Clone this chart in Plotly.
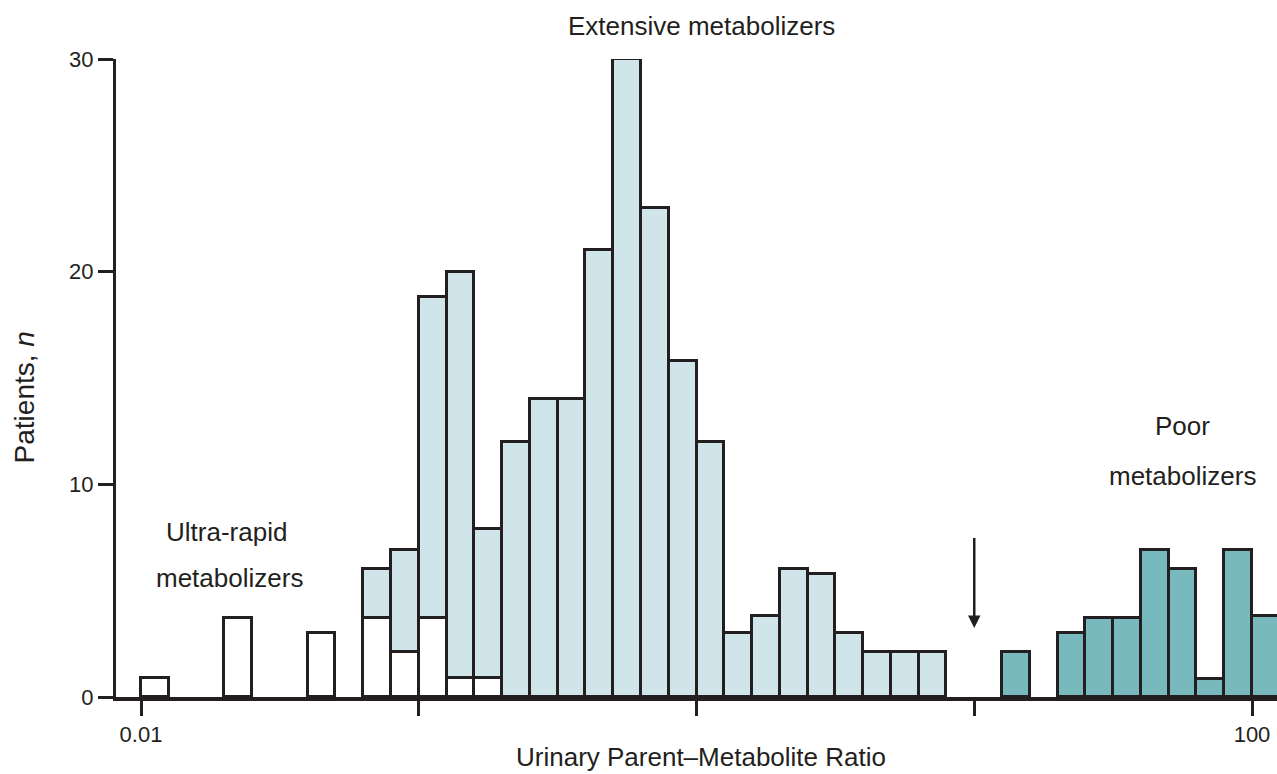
import plotly.graph_objects as go

# Histogram of urinary parent/metabolite ratio; bins are 0.1 wide in log10(ratio),
# each bin identified by its lower edge.
ultra_bins = [-2.0, -1.7, -1.4, -1.2, -1.1, -1.0, -0.9, -0.8]
ultra_n = [0.9, 3.7, 3.0, 3.7, 2.1, 3.7, 0.9, 0.9]

extensive_bins = [-1.2, -1.1, -1.0, -0.9, -0.8, -0.7, -0.6, -0.5, -0.4, -0.3, -0.2,
                  -0.1, 0.0, 0.1, 0.2, 0.3, 0.4, 0.5, 0.6, 0.7, 0.8]
extensive_n = [2.3, 4.8, 15.1, 19.1, 7.0, 12.0, 14.0, 14.0, 21.0, 30.0, 23.0,
               15.8, 12.0, 3.0, 3.8, 6.0, 5.8, 3.0, 2.1, 2.1, 2.1]

poor_bins = [1.1, 1.3, 1.4, 1.5, 1.6, 1.7, 1.8, 1.9, 2.0]
poor_n = [2.1, 3.0, 3.7, 3.7, 6.9, 6.0, 0.85, 6.9, 3.8]

tick_vals = [-2, -1, 0, 1, 2]
tick_text = ["0.01", "", "", "", "100"]

BIN = 0.1
INK = "#231f20"
FONT = "Liberation Sans Narrow, Arial Narrow, Liberation Sans, Arial, sans-serif"


def centers(bins):
    return [round(b + BIN / 2, 3) for b in bins]


fig = go.Figure()
for bins, counts, color in [
    (ultra_bins, ultra_n, "#ffffff"),
    (extensive_bins, extensive_n, "#cfe5ea"),
    (poor_bins, poor_n, "#78b9be"),
]:
    fig.add_trace(go.Bar(
        x=centers(bins), y=counts, width=[BIN] * len(bins),
        marker=dict(color=color, line=dict(color=INK, width=3)),
        showlegend=False, hoverinfo="skip",
    ))

# Cut-off between extensive and poor metabolizers (ratio = 10)
fig.add_annotation(
    x=1.0, y=3.25, ax=1.0, ay=7.55, xref="x", yref="y", axref="x", ayref="y",
    text="", showarrow=True, arrowhead=2, arrowsize=1.0, arrowwidth=2.5,
    arrowcolor=INK,
)

label_font = dict(family=FONT, size=26, color=INK)
for text, x, y in [
    ("Extensive metabolizers", 0.5047, 1.052),
    ("Ultra-rapid", 0.0955, 0.259),
    ("metabolizers", 0.0977, 0.186),
    ("Poor", 0.919, 0.425),
    ("metabolizers", 0.919, 0.346),
]:
    fig.add_annotation(x=x, y=y, xref="paper", yref="paper", text=text,
                       showarrow=False, font=label_font,
                       xanchor="center", yanchor="middle")

# Axis titles
fig.add_annotation(x=0.5037, y=-0.094, xref="paper", yref="paper",
                   text="Urinary Parent\u2013Metabolite Ratio", showarrow=False,
                   font=label_font, xanchor="center", yanchor="middle")
fig.add_annotation(x=-0.079, y=0.47, xref="paper", yref="paper",
                   text="Patients, <i>n</i>", showarrow=False, textangle=-90,
                   font=dict(family=FONT, size=28, color=INK),
                   xanchor="center", yanchor="middle")

fig.update_layout(
    width=1277, height=774,
    margin=dict(l=116, r=0, t=59, b=77),
    barmode="stack", bargap=0,
    plot_bgcolor="white", paper_bgcolor="white",
    font=dict(family=FONT, color=INK),
)
fig.update_xaxes(
    range=[-2.09, 2.09], tickvals=tick_vals, ticktext=tick_text,
    showline=True, linecolor=INK, linewidth=4,
    ticks="outside", ticklen=15, tickwidth=3, tickcolor=INK,
    showgrid=False, zeroline=False,
    tickfont=dict(family=FONT, size=22, color=INK),
)
fig.update_yaxes(
    range=[0, 30], tickvals=[0, 10, 20, 30],
    showline=True, linecolor=INK, linewidth=3,
    ticks="outside", ticklen=15, tickwidth=3, tickcolor=INK,
    showgrid=False, zeroline=False,
    tickfont=dict(family=FONT, size=22, color=INK),
)

fig.write_html("out.html")
